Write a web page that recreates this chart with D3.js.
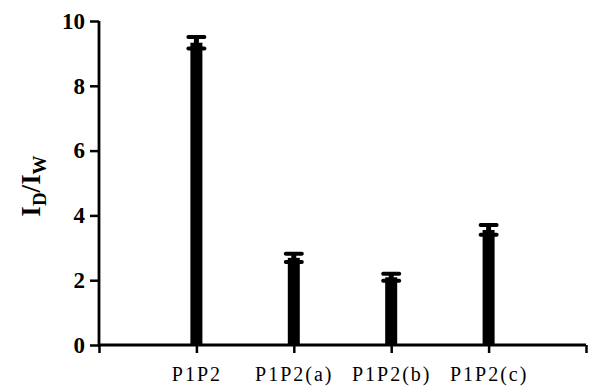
<!DOCTYPE html>
<html><head><meta charset="utf-8">
<script src="https://cdn.jsdelivr.net/npm/d3@7"></script>
<style>body{margin:0;background:#fff}</style>
</head><body>
<svg id="c" width="589" height="389"></svg>
<script>
const categories = ["P1P2", "P1P2(a)", "P1P2(b)", "P1P2(c)"];
const values = [9.33, 2.69, 2.09, 3.55];
const errors = [0.18, 0.13, 0.11, 0.15];
const yTicks = [0, 2, 4, 6, 8, 10];

const svg = d3.select("#c");
const x = d3.scaleLinear().domain([0, 5]).range([99, 586]);
const y = d3.scaleLinear().domain([0, 10]).range([345, 21]);
const serif = "'Liberation Serif','Times New Roman',serif";

// bars
svg.selectAll("rect.bar").data(values).join("rect")
  .attr("x", (d, i) => x(i + 1) - 6).attr("width", 12)
  .attr("y", d => y(d)).attr("height", d => y(0) - y(d))
  .attr("fill", "#000");

// error bars
const eb = svg.selectAll("g.err").data(values).join("g");
eb.append("line")
  .attr("x1", (d, i) => x(i + 1)).attr("x2", (d, i) => x(i + 1))
  .attr("y1", (d, i) => y(d + errors[i])).attr("y2", (d, i) => y(d - errors[i]))
  .attr("stroke", "#000").attr("stroke-width", 5);
[1, -1].forEach(s => {
  eb.append("line")
    .attr("x1", (d, i) => x(i + 1) - 8).attr("x2", (d, i) => x(i + 1) + 8)
    .attr("y1", (d, i) => y(d + s * errors[i])).attr("y2", (d, i) => y(d + s * errors[i]))
    .attr("stroke", "#000").attr("stroke-width", 4).attr("stroke-linecap", "round");
});

// y axis
const ya = svg.append("g").attr("transform", `translate(${x(0)},0)`)
  .call(d3.axisLeft(y).tickValues(yTicks).tickFormat(d3.format("d")).tickSize(9).tickPadding(5));
ya.select(".domain").attr("stroke-width", 2.8).attr("d", `M0,${y(10)}V${y(0)+1}`);
ya.selectAll(".tick line").attr("stroke-width", 2.5);
ya.selectAll(".tick text").attr("font-family", serif).attr("font-weight", "bold")
  .attr("font-size", 23).attr("fill", "#000");

// x axis
const xa = svg.append("g").attr("transform", `translate(0,${y(0)})`)
  .call(d3.axisBottom(x).tickValues([0, 1, 2, 3, 4, 5]).tickFormat(d => categories[d - 1] || "").tickSize(8).tickPadding(14));
xa.select(".domain").attr("stroke-width", 2.8).attr("d", `M${x(0)-1},0H${x(5)}`);
xa.selectAll(".tick line").attr("stroke-width", 2.5);
xa.selectAll(".tick text").attr("font-family", serif).attr("font-size", 20)
  .attr("letter-spacing", 2).attr("fill", "#000");

// y label
const lab = svg.append("text").attr("transform", "translate(40,186) rotate(-90)")
  .attr("text-anchor", "middle").attr("font-family", serif).attr("font-weight", "bold")
  .attr("font-size", 27).attr("fill", "#000");
lab.append("tspan").text("I");
lab.append("tspan").text("D").attr("font-size", 19).attr("dy", 6);
lab.append("tspan").text("/I").attr("dy", -6);
lab.append("tspan").text("W").attr("font-size", 19).attr("dy", 6);
</script>
</body></html>
